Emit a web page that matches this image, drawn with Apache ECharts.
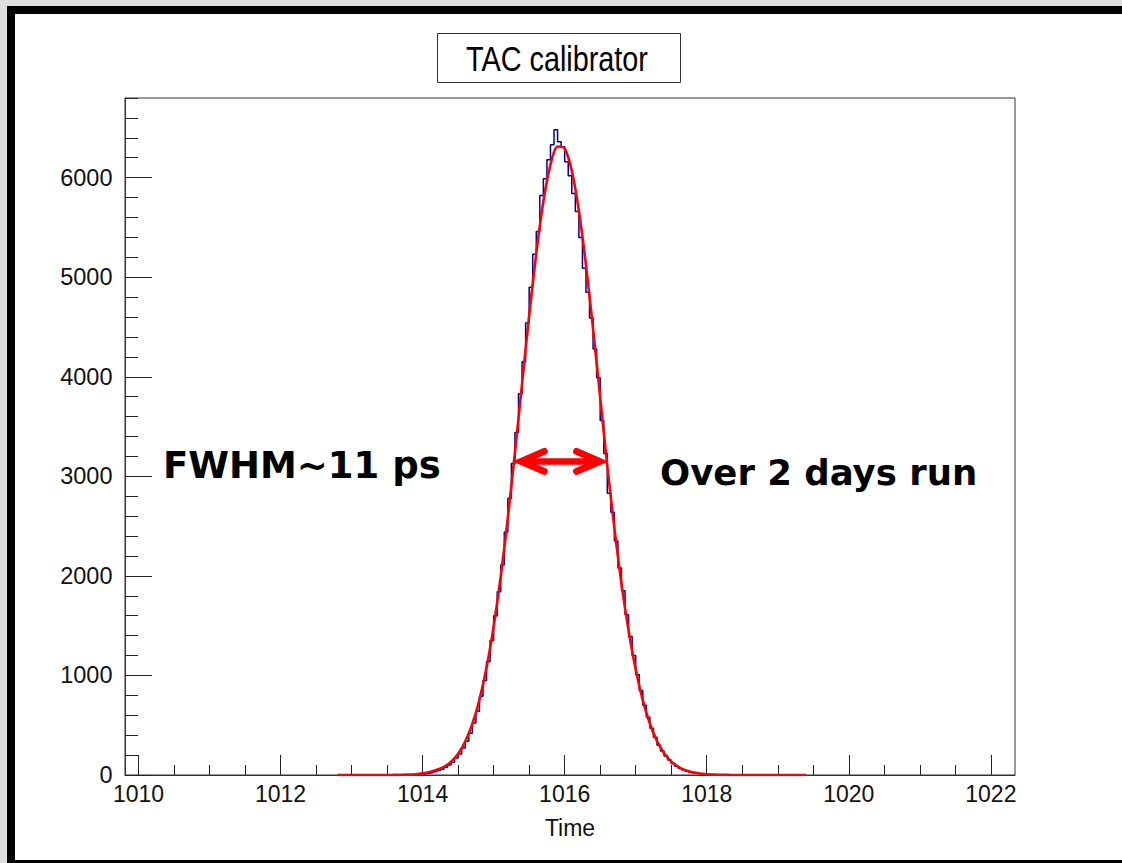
<!DOCTYPE html>
<html><head><meta charset="utf-8">
<script src="https://cdn.jsdelivr.net/npm/echarts@6/dist/echarts.min.js"></script>
<style>
html,body{margin:0;padding:0;background:#dedede;}
#frame{position:absolute;left:7px;top:6px;width:1115px;height:857px;background:#000;}
#inner{position:absolute;left:15px;top:14px;width:1107px;height:846px;background:#fff;}
#chart{position:absolute;left:0;top:0;width:1122px;height:863px;}
</style></head><body>
<div id="frame"></div><div id="inner"></div><div id="chart"></div>
<script>
const xMajorTicks = [1010, 1012, 1014, 1016, 1018, 1020, 1022];
const xMinorTicks = [1010, 1010.5, 1011, 1011.5, 1012, 1012.5, 1013, 1013.5, 1014, 1014.5, 1015, 1015.5, 1016, 1016.5, 1017, 1017.5, 1018, 1018.5, 1019, 1019.5, 1020, 1020.5, 1021, 1021.5, 1022];
const yMajorTicks = [0, 1000, 2000, 3000, 4000, 5000, 6000];
const yMinorTicks = [0, 200, 400, 600, 800, 1000, 1200, 1400, 1600, 1800, 2000, 2200, 2400, 2600, 2800, 3000, 3200, 3400, 3600, 3800, 4000, 4200, 4400, 4600, 4800, 5000, 5200, 5400, 5600, 5800, 6000, 6200, 6400, 6600, 6800];

// histogram: left edge of first bin, bin width, counts
const histStart = 1013.9;
const histBinWidth = 0.05;
const histCounts = [6, 9, 12, 18, 24, 33, 45, 58, 78, 101,
  128, 170, 212, 270, 338, 420, 522, 640, 790, 950,
  1140, 1350, 1600, 1840, 2110, 2440, 2780, 3130, 3440, 3830,
  4150, 4540, 4900, 5230, 5460, 5820, 5990, 6180, 6330, 6480,
  6360, 6310, 6160, 6020, 5840, 5660, 5400, 5090, 4850, 4590,
  4280, 3990, 3560, 3230, 2830, 2640, 2350, 2080, 1850, 1610,
  1390, 1200, 1010, 850, 700, 580, 470, 380, 300, 240,
  190, 150, 115, 88, 66, 50, 38, 28, 20, 14,
  10, 7, 5, 3];

// fit curve sampled every 0.1 from 1012.8
const fitStart = 1012.8;
const fitStep = 0.1;
const fitValues = [0, 0, 0, 0, 0, 0, 0, 0, 1, 2,
  4, 8, 16, 30, 52, 82, 133, 214, 336, 512,
  756, 1080, 1493, 1997, 2586, 3240, 3930, 4613, 5240, 5761,
  6131, 6313, 6293, 6070, 5668, 5122, 4479, 3790, 3105, 2480,
  1920, 1450, 1060, 750, 515, 340, 218, 135, 82, 48,
  27, 15, 8, 4, 2, 1, 0, 0, 0, 0,
  0, 0, 0, 0, 0, 0, 0];

// FWHM arrow: [from, to, level]
const fwhmArrow = [1015.29, 1016.59, 3150];

const xMin = 1009.81, xMax = 1022.34, yMin = 0, yMax = 6800;
const sans = "'Liberation Sans',Arial,sans-serif";
const bold = "'DejaVu Sans',sans-serif";

const histData = histCounts.map((c, i) => [+(histStart + i * histBinWidth).toFixed(3), c]);
histData.push([+(histStart + histCounts.length * histBinWidth).toFixed(3), histCounts[histCounts.length - 1]]);
const fitData = fitValues.map((v, i) => [+(fitStart + i * fitStep).toFixed(2), v]);

const plain = v => String(v);

const chart = echarts.init(document.getElementById('chart'), null, {renderer: 'svg'});
chart.setOption({
  backgroundColor: 'transparent',
  animation: false,
  grid: {left: 125, right: 107, top: 98, bottom: 88, show: true, borderColor: '#333', borderWidth: 1, backgroundColor: 'transparent'},
  xAxis: [
    {type: 'value', min: xMin, max: xMax, position: 'bottom',
     axisLine: {show: true, onZero: false, lineStyle: {color: '#333', width: 1}},
     axisTick: {show: true, inside: true, length: 20, customValues: xMajorTicks, lineStyle: {color: '#222', width: 1}},
     axisLabel: {customValues: xMajorTicks, formatter: plain, fontSize: 23, lineHeight: 18, fontFamily: sans, color: '#111', margin: 10},
     splitLine: {show: false},
     name: 'Time', nameLocation: 'middle', nameGap: 41,
     nameTextStyle: {fontSize: 23, fontFamily: sans, color: '#111'}},
    {type: 'value', min: xMin, max: xMax, position: 'bottom',
     axisLine: {show: false, onZero: false},
     axisTick: {show: true, inside: true, length: 10, customValues: xMinorTicks, lineStyle: {color: '#222', width: 1}},
     axisLabel: {show: false}, splitLine: {show: false}}
  ],
  yAxis: [
    {type: 'value', min: yMin, max: yMax, position: 'left',
     axisLine: {show: true, onZero: false, lineStyle: {color: '#333', width: 1}},
     axisTick: {show: true, inside: true, length: 27, customValues: yMajorTicks, lineStyle: {color: '#222', width: 1}},
     axisLabel: {customValues: yMajorTicks, formatter: plain, fontSize: 23.5, lineHeight: 18, fontFamily: sans, color: '#111', margin: 12.5},
     splitLine: {show: false}},
    {type: 'value', min: yMin, max: yMax, position: 'left',
     axisLine: {show: false, onZero: false},
     axisTick: {show: true, inside: true, length: 13, customValues: yMinorTicks, lineStyle: {color: '#222', width: 1}},
     axisLabel: {show: false}, splitLine: {show: false}}
  ],
  series: [
    {type: 'line', name: 'histogram', xAxisIndex: 0, yAxisIndex: 0, data: histData, step: 'end',
     showSymbol: false, symbol: 'none', lineStyle: {color: '#00009c', width: 1.5}, z: 2, silent: true},
    {type: 'line', name: 'fit', xAxisIndex: 0, yAxisIndex: 0, data: fitData, smooth: 0.3,
     showSymbol: false, symbol: 'none', lineStyle: {color: '#ff0000', width: 2.6}, z: 3, silent: true},
    {type: 'custom', name: 'fwhm', xAxisIndex: 0, yAxisIndex: 0, data: [fwhmArrow], z: 4, silent: true,
     encode: {x: [0, 1], y: 2},
     renderItem: function (params, api) {
       const p1 = api.coord([api.value(0), api.value(2)]);
       const p2 = api.coord([api.value(1), api.value(2)]);
       const inset = 7, hx = 23, hy = 10;
       const a = p1[0] + inset, b = p2[0] - inset, y = p1[1];
       const st = {stroke: '#ff0000', lineWidth: 7, lineCap: 'round', lineJoin: 'miter', fill: null};
       return {type: 'group', children: [
         {type: 'line', shape: {x1: a + 4, y1: y, x2: b - 4, y2: y}, style: {stroke: '#ff0000', lineWidth: 6.5, lineCap: 'round'}},
         {type: 'polyline', shape: {points: [[a + hx, y - hy], [a, y], [a + hx, y + hy]]}, style: st},
         {type: 'polyline', shape: {points: [[b - hx, y - hy], [b, y], [b - hx, y + hy]]}, style: st}
       ]};
     }}
  ],
  graphic: [
    {type: 'rect', left: 437, top: 33, shape: {width: 243, height: 49}, style: {fill: '#fff', stroke: '#333', lineWidth: 1}, z: 10},
    {type: 'text', x: 557, y: 58, scaleX: 0.8, style: {text: 'TAC calibrator', fontSize: 36, fontFamily: sans, fill: '#000', align: 'center', verticalAlign: 'middle'}, z: 11},
    {type: 'text', x: 163, y: 465, style: {text: 'FWHM~11 ps', fontSize: 37, fontWeight: 'bold', fontFamily: bold, fill: '#000', align: 'left', verticalAlign: 'middle'}, z: 11},
    {type: 'text', x: 660, y: 472, style: {text: 'Over 2 days run', fontSize: 35.5, fontWeight: 'bold', fontFamily: bold, fill: '#000', align: 'left', verticalAlign: 'middle'}, z: 11}
  ]
});
</script>
</body></html>
